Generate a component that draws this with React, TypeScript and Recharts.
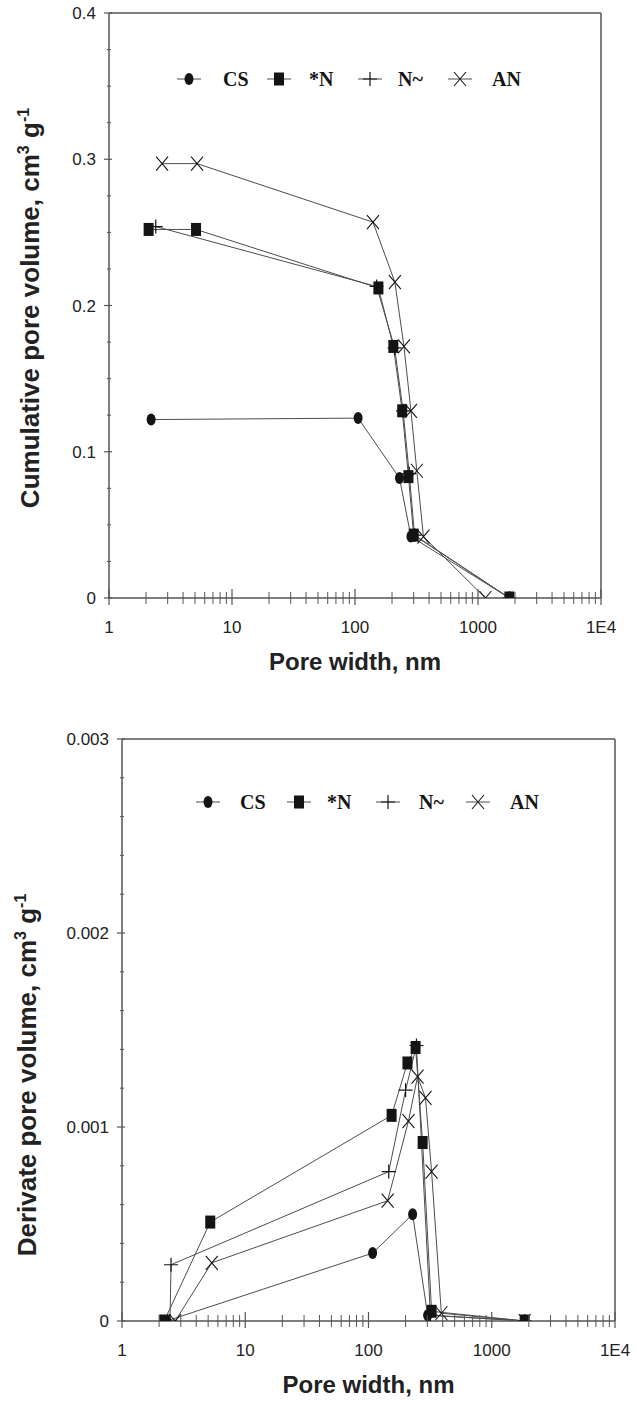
import React from 'react'
import { LineChart, Line, XAxis, YAxis, Legend, ReferenceLine } from 'recharts'

type Pt = [number, number]

// pore width (nm) -> cumulative pore volume (cm3/g)
const cumCS: Pt[] = [[2.2, 0.122], [106, 0.123], [230, 0.082], [285, 0.042], [1800, 0]]
const cumN: Pt[] = [[2.1, 0.252], [5.1, 0.252], [155, 0.212], [205, 0.172], [242, 0.128], [272, 0.083], [300, 0.043], [1800, 0]]
const cumNt: Pt[] = [[2.4, 0.254], [150, 0.213], [210, 0.171], [246, 0.128], [276, 0.085], [305, 0.043], [1800, 0]]
const cumAN: Pt[] = [[2.7, 0.297], [5.2, 0.297], [140, 0.257], [211, 0.216], [250, 0.172], [285, 0.128], [318, 0.087], [360, 0.042], [1150, 0]]

// pore width (nm) -> derivate pore volume
const derCS: Pt[] = [[2.3, 0], [108, 0.00035], [228, 0.00055], [302, 0.00003], [1850, 0]]
const derN: Pt[] = [[2.2, 0], [5.2, 0.00051], [154, 0.00106], [207, 0.00133], [241, 0.00141], [275, 0.00092], [325, 0.00005], [1850, 0]]
const derNt: Pt[] = [[2.45, 0], [2.5, 0.00029], [146, 0.00077], [200, 0.00119], [245, 0.00142], [318, 0.00003], [1850, 0]]
const derAN: Pt[] = [[2.7, 0], [5.35, 0.0003], [143, 0.00062], [211, 0.00103], [250, 0.00126], [290, 0.00115], [325, 0.00077], [390, 0.00004], [1850, 0]]

const seriesNames = ['CS', '*N', 'N~', 'AN']
const markerKinds = ['circle', 'square', 'plus', 'cross']

const widthTicks = [1, 10, 100, 1000, 10000]
const widthLabels = ['1', '10', '100', '1000', '1E4']
const cumTicks = [0, 0.1, 0.2, 0.3, 0.4]
const cumLabels = ['0', '0.1', '0.2', '0.3', '0.4']
const derTicks = [0, 0.001, 0.002, 0.003]
const derLabels = ['0', '0.001', '0.002', '0.003']

const INK = '#141414'
const LINE = '#4d4d4d'
const AXIS = '#555'
const SANS = '"Liberation Sans", Arial, sans-serif'
const SERIF = '"Liberation Serif", "Times New Roman", serif'

// log axis: majors plus 2..9 in each decade
const widthAll: number[] = []
for (let d = 0; d < widthTicks.length - 1; d++) {
  for (let m = 1; m < 10; m++) widthAll.push(widthTicks[d] * m)
}
widthAll.push(widthTicks[widthTicks.length - 1])

function subdivide(majors: number[], parts: number) {
  const out: number[] = []
  for (let i = 0; i < majors.length - 1; i++) {
    const step = (majors[i + 1] - majors[i]) / parts
    for (let k = 0; k < parts; k++) out.push(majors[i] + step * k)
  }
  out.push(majors[majors.length - 1])
  return out
}

const toRows = (pts: Pt[]) => pts.map(([x, y]) => ({ x, y }))

function Marker({ kind, cx, cy }: { kind: string; cx: number; cy: number }) {
  if (kind === 'circle') return <ellipse cx={cx} cy={cy} rx={4.5} ry={6} fill={INK} />
  if (kind === 'square') return <rect x={cx - 5} y={cy - 6.5} width={10} height={13} fill={INK} />
  if (kind === 'plus')
    return <path d={`M${cx - 7},${cy}H${cx + 7}M${cx},${cy - 7}V${cy + 7}`} stroke={INK} strokeWidth={1.2} fill="none" />
  return <path d={`M${cx - 6},${cy - 7}L${cx + 6},${cy + 7}M${cx + 6},${cy - 7}L${cx - 6},${cy + 7}`} stroke={INK} strokeWidth={1.1} fill="none" />
}

function WidthTick(props: any) {
  const { x, y, payload } = props
  const i = widthTicks.indexOf(payload.value)
  if (i < 0) return <line x1={x} x2={x} y1={y - 6} y2={y + 6} stroke={AXIS} strokeWidth={1} />
  return (
    <g>
      <line x1={x} x2={x} y1={y - 9} y2={y + 7} stroke={AXIS} strokeWidth={1.2} />
      <text x={x} y={y + 35} textAnchor="middle" fontSize={17} fontFamily={SANS} fill="#222">
        {widthLabels[i]}
      </text>
    </g>
  )
}

function makeValueTick(majors: number[], labels: string[]) {
  return (props: any) => {
    const { x, y, payload } = props
    const i = majors.findIndex(m => Math.abs(m - payload.value) < 1e-9)
    if (i < 0) return <line x1={x - 2} x2={x + 2} y1={y} y2={y} stroke={AXIS} strokeWidth={1} />
    return (
      <g>
        <line x1={x - 5} x2={x + 3} y1={y} y2={y} stroke={AXIS} strokeWidth={1.2} />
        <text x={x - 13} y={y + 6} textAnchor="end" fontSize={17} fontFamily={SANS} fill="#222">
          {labels[i]}
        </text>
      </g>
    )
  }
}

function LegendRow({ y, markX, textX }: { y: number; markX: number[]; textX: number[] }) {
  return (
    <svg width={637} height={40} style={{ display: 'block' }}>
      {seriesNames.map((name, i) => (
        <g key={name}>
          <line x1={markX[i] - 12} x2={markX[i] + 12} y1={y} y2={y} stroke={LINE} strokeWidth={1} />
          <Marker kind={markerKinds[i]} cx={markX[i]} cy={y} />
          <text x={textX[i]} y={y + 7} fontSize={20} fontWeight="bold" fontFamily={SERIF} fill={INK}>
            {name}
          </text>
        </g>
      ))}
    </svg>
  )
}

interface PoreChartProps {
  height: number
  top: number
  plotLeft: number
  plotRight: number
  xAxisHeight: number
  series: Pt[][]
  majors: number[]
  labels: string[]
  minorParts: number
  yTitle: string
  yTitleX: number
  yTitleY: number
  legendTop: number
  markX: number[]
  textX: number[]
}

function PoreChart(p: PoreChartProps) {
  const yMax = p.majors[p.majors.length - 1]
  return (
    <LineChart
      width={637}
      height={p.height}
      margin={{ top: p.top, right: 637 - p.plotRight, left: 0, bottom: 0 }}
    >
      <XAxis
        dataKey="x"
        type="number"
        scale="log"
        domain={[1, 10000]}
        allowDataOverflow
        ticks={widthAll}
        interval={0}
        tickSize={0}
        tickMargin={0}
        tickLine={false}
        tick={WidthTick}
        height={p.xAxisHeight}
        axisLine={{ stroke: AXIS, strokeWidth: 1.5 }}
        label={(lp: any) => {
          const vb = lp.viewBox
          return (
            <text x={vb.x + vb.width / 2} y={vb.y + 72} textAnchor="middle" fontSize={24} fontWeight="bold" fontFamily={SANS} fill="#222">
              Pore width, nm
            </text>
          )
        }}
      />
      <YAxis
        type="number"
        domain={[0, yMax]}
        allowDataOverflow
        ticks={subdivide(p.majors, p.minorParts)}
        interval={0}
        tickSize={0}
        tickMargin={0}
        tickLine={false}
        tick={makeValueTick(p.majors, p.labels)}
        width={p.plotLeft}
        axisLine={{ stroke: AXIS, strokeWidth: 1.5 }}
        label={() => (
          <text
            x={p.yTitleX}
            y={p.yTitleY}
            transform={`rotate(-90, ${p.yTitleX}, ${p.yTitleY})`}
            textAnchor="middle"
            fontSize={26}
            fontWeight="bold"
            fontFamily={SANS}
            fill="#222"
          >
            {p.yTitle}, cm<tspan dy={-10} fontSize={16}>3</tspan>
            <tspan dy={10}> g</tspan>
            <tspan dy={-10} fontSize={16}>-1</tspan>
          </text>
        )}
      />
      <ReferenceLine y={yMax} stroke={AXIS} strokeWidth={1.5} />
      <ReferenceLine x={10000} stroke={AXIS} strokeWidth={1.5} />
      <Legend
        verticalAlign="middle"
        align="center"
        layout="horizontal"
        wrapperStyle={{ left: 0, top: p.legendTop - 20, width: 637, height: 40 }}
        content={() => <LegendRow y={20} markX={p.markX} textX={p.textX} />}
      />
      {p.series.map((pts, i) => (
        <Line
          key={seriesNames[i]}
          name={seriesNames[i]}
          data={toRows(pts)}
          dataKey="y"
          type="linear"
          stroke={LINE}
          strokeWidth={1}
          isAnimationActive={false}
          activeDot={false}
          dot={(d: any) => <Marker key={`${seriesNames[i]}-${d.index}`} kind={markerKinds[i]} cx={d.cx} cy={d.cy} />}
        />
      ))}
    </LineChart>
  )
}

export default function App() {
  return (
    <div style={{ position: 'absolute', left: 0, top: 0, width: 637, height: 1405, background: '#fff' }}>
      <div style={{ position: 'absolute', left: 0, top: 0 }}>
        <PoreChart
          height={700}
          top={13}
          plotLeft={109}
          plotRight={601}
          xAxisHeight={102}
          series={[cumCS, cumN, cumNt, cumAN]}
          majors={cumTicks}
          labels={cumLabels}
          minorParts={4}
          yTitle="Cumulative pore volume"
          yTitleX={39}
          yTitleY={308}
          legendTop={79}
          markX={[189, 279, 370, 460]}
          textX={[223, 309, 398, 492]}
        />
      </div>
      <div style={{ position: 'absolute', left: 0, top: 700 }}>
        <PoreChart
          height={705}
          top={39}
          plotLeft={122}
          plotRight={615}
          xAxisHeight={84}
          series={[derCS, derN, derNt, derAN]}
          majors={derTicks}
          labels={derLabels}
          minorParts={5}
          yTitle="Derivate pore volume"
          yTitleX={36}
          yTitleY={375}
          legendTop={102}
          markX={[208, 299, 388, 478]}
          textX={[240, 327, 419, 510]}
        />
      </div>
    </div>
  )
}
